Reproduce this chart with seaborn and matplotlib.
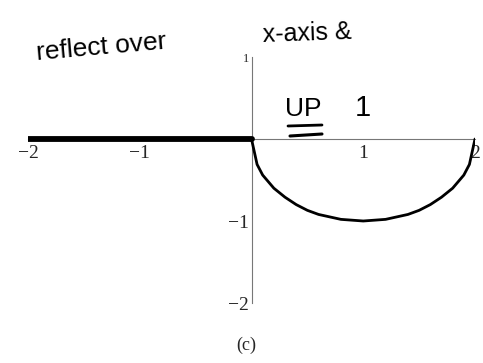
import matplotlib
matplotlib.use("Agg")
import matplotlib.pyplot as plt
import seaborn as sns
import pandas as pd

# Flat piece on the left half of the domain
flat_x = [-2.0, -1.5, -1.0, -0.5, 0.0]
flat_y = [0.0, 0.0, 0.0, 0.0, 0.0]

# Lower half-circle on [0, 2]
arc_x = [0.0, 0.05, 0.1, 0.2, 0.3, 0.4, 0.5, 0.6, 0.7, 0.8, 0.9, 1.0,
         1.1, 1.2, 1.3, 1.4, 1.5, 1.6, 1.7, 1.8, 1.9, 1.95, 2.0]
arc_y = [0.0, -0.31, -0.44, -0.60, -0.71, -0.80, -0.87, -0.92, -0.95, -0.98, -0.99, -1.0,
         -0.99, -0.98, -0.95, -0.92, -0.87, -0.80, -0.71, -0.60, -0.44, -0.31, 0.0]

x_ticks = [-2, -1, 1, 2]
x_tick_labels = ["\u22122", "\u22121", "1", "2"]
y_ticks = [1, -1, -2]
y_tick_labels = ["1", "\u22121", "\u22122"]

sns.set_style("white")
plt.rcParams["font.family"] = ["Liberation Serif", "DejaVu Serif"]

W, H = 483, 363
fig = plt.figure(figsize=(W / 100, H / 100), dpi=100)
ax = fig.add_axes([28 / W, 1 - 303 / H, 447 / W, 246 / H])
ax.set_xlim(-2, 2)
ax.set_ylim(-2, 1)

flat = pd.DataFrame({"x": flat_x, "y": flat_y})
arc = pd.DataFrame({"x": arc_x, "y": arc_y})
sns.lineplot(data=flat, x="x", y="y", ax=ax, color="black", lw=4.2,
             sort=False, solid_capstyle="round", zorder=3)
sns.lineplot(data=arc, x="x", y="y", ax=ax, color="black", lw=2.0,
             sort=False, zorder=3)

# Axes through the origin
for side in ("top", "right"):
    ax.spines[side].set_visible(False)
for side in ("left", "bottom"):
    ax.spines[side].set_position(("data", 0))
    ax.spines[side].set_color("#777777")
    ax.spines[side].set_linewidth(0.8)
    ax.spines[side].set_linestyle((0, (4, 1)))

ax.set_xticks(x_ticks)
ax.set_xticklabels(x_tick_labels)
ax.set_yticks(y_ticks)
ax.set_yticklabels(y_tick_labels)
ax.tick_params(axis="both", length=3, width=0.7, color="#777777",
               labelsize=14, pad=2, direction="in")
ax.tick_params(axis="x", direction="inout", length=5)
ax.set_xlabel("")
ax.set_ylabel("")
ax.yaxis.get_ticklabels()[0].set_fontsize(9)

# Handwritten notes
hand = dict(color="black", fontfamily=["Liberation Sans", "DejaVu Sans"])
fig.text(35 / W, 1 - 60 / H, "reflect over", fontsize=19, rotation=5,
         ha="left", va="baseline", **hand)
fig.text(262 / W, 1 - 42 / H, "x-axis &", fontsize=18, rotation=2,
         ha="left", va="baseline", **hand)
fig.text(285 / W, 1 - 116 / H, "UP", fontsize=19, ha="left", va="baseline", **hand)
fig.text(355 / W, 1 - 116 / H, "1", fontsize=21, ha="left", va="baseline", **hand)
fig.add_artist(plt.Line2D([288 / W, 322 / W], [1 - 126 / H, 1 - 125 / H],
                          transform=fig.transFigure, color="black", lw=2))
fig.add_artist(plt.Line2D([290 / W, 322 / W], [1 - 136 / H, 1 - 134 / H],
                          transform=fig.transFigure, color="black", lw=2.2))

fig.text(246 / W, 1 - 345 / H, "(c)", fontsize=13, ha="center", va="center")

fig.savefig("out.png", dpi=100)
